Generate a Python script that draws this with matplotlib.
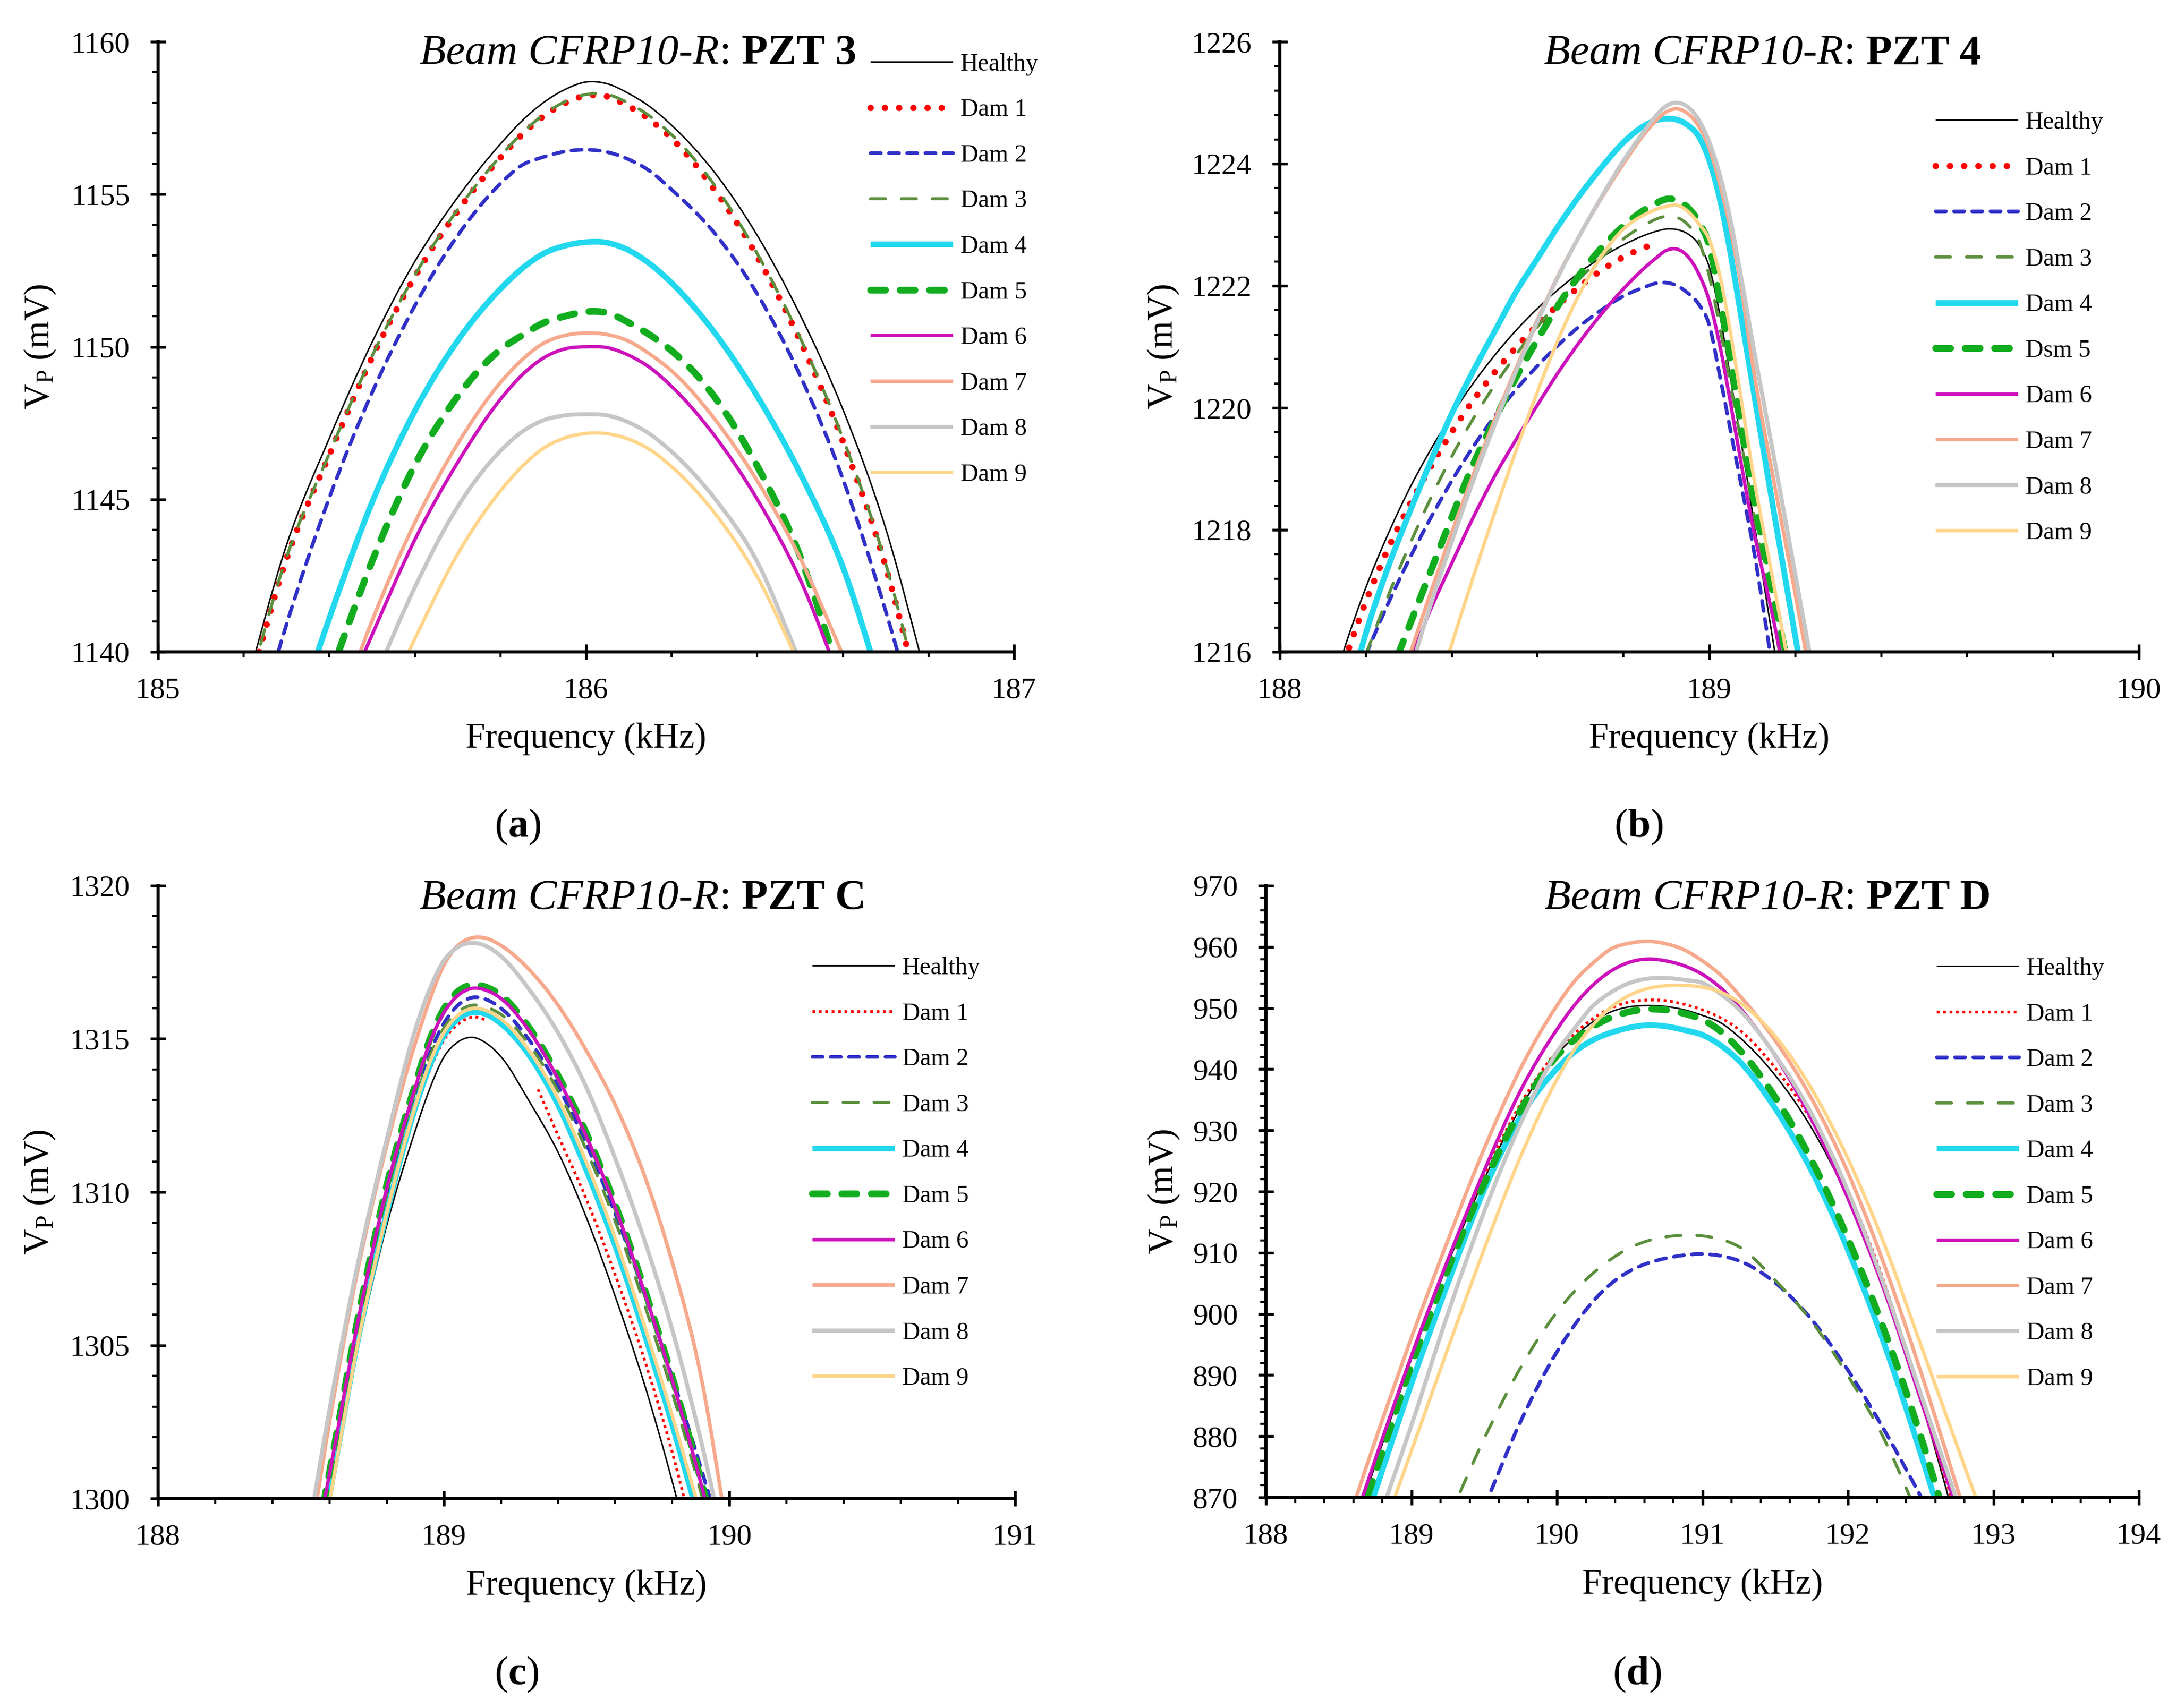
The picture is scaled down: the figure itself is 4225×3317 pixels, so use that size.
import numpy as np
import matplotlib
matplotlib.use("Agg")
import matplotlib.pyplot as plt
from matplotlib.ticker import MultipleLocator
from matplotlib.path import Path
from matplotlib.patches import PathPatch
from matplotlib.lines import Line2D
from matplotlib.offsetbox import TextArea, HPacker, AnchoredOffsetbox

plt.rcParams['font.family'] = ['Liberation Serif', 'DejaVu Serif']
plt.rcParams['mathtext.fontset'] = 'custom'
plt.rcParams['mathtext.rm'] = 'Liberation Serif'
plt.rcParams['mathtext.it'] = 'Liberation Serif:italic'
plt.rcParams['mathtext.bf'] = 'Liberation Serif:bold'

nan = np.nan

# ---------------- Panel (a): PZT 3 ----------------
freq_a = [185.2, 185.3, 185.4, 185.5, 185.6, 185.7, 185.8, 185.85, 185.9, 185.95, 186.0,
          186.05, 186.1, 186.15, 186.2, 186.3, 186.4, 186.5, 186.6, 186.7, 186.8]
healthy_a = [1138.6, 1143.5, 1147.0, 1150.15, 1152.8, 1154.9, 1156.65, 1157.4, 1158.0, 1158.43, 1158.68,
             1158.62, 1158.3, 1157.86, 1157.26, 1155.72, 1153.65, 1151.05, 1147.95, 1144.05, 1138.9]
dam1_a = [1138.2, 1143.05, 1146.45, 1149.65, 1152.3, 1154.45, 1156.2, 1156.95, 1157.55, 1157.98, 1158.23,
          1158.2, 1157.88, 1157.43, 1156.83, 1155.15, 1152.95, 1150.2, 1146.9, 1142.8, 1137.3]
dam2_a = [1136.0, 1140.9, 1145.05, 1148.5, 1151.35, 1153.65, 1155.35, 1155.95, 1156.22, 1156.4, 1156.46,
          1156.38, 1156.14, 1155.75, 1155.15, 1153.73, 1151.73, 1149.06, 1145.67, 1141.34, 1136.4]
dam3_a = [1138.3, 1143.1, 1146.5, 1149.7, 1152.35, 1154.5, 1156.25, 1157.0, 1157.6, 1158.03, 1158.27,
          1158.27, 1157.98, 1157.55, 1156.95, 1155.3, 1153.05, 1150.3, 1147.0, 1142.9, 1137.4]
dam4_a = [nan, 1136.9, 1141.1, 1144.9, 1147.9, 1150.2, 1151.9, 1152.56, 1153.05, 1153.31, 1153.43,
          1153.41, 1153.16, 1152.71, 1152.09, 1150.47, 1148.38, 1145.86, 1142.78, 1138.4, nan]
dam5_a = [nan, nan, 1139.17, 1142.97, 1146.13, 1148.38, 1149.91, 1150.37, 1150.78, 1151.0, 1151.15,
          1151.11, 1150.79, 1150.38, 1149.87, 1148.36, 1146.09, 1143.14, 1138.9, nan, nan]
dam6_a = [nan, nan, 1137.3, 1140.56, 1143.68, 1146.21, 1148.28, 1149.07, 1149.63, 1149.93, 1150.0,
          1149.97, 1149.72, 1149.31, 1148.7, 1147.09, 1145.0, 1142.38, 1138.85, nan, nan]
dam7_a = [nan, nan, 1137.2, 1141.02, 1144.24, 1146.82, 1148.83, 1149.57, 1150.11, 1150.37, 1150.45,
          1150.4, 1150.18, 1149.75, 1149.21, 1147.64, 1145.6, 1143.08, 1139.9, nan, nan]
dam8_a = [nan, nan, nan, 1138.94, 1142.12, 1144.76, 1146.59, 1147.21, 1147.59, 1147.75, 1147.79,
          1147.75, 1147.52, 1147.13, 1146.56, 1145.04, 1142.95, 1139.68, nan, nan, nan]
dam9_a = [nan, nan, nan, 1137.4, 1140.43, 1143.21, 1145.28, 1146.07, 1146.67, 1147.01, 1147.16,
          1147.15, 1146.97, 1146.62, 1146.07, 1144.56, 1142.46, 1139.55, nan, nan, nan]

# ---------------- Panel (b): PZT 4 ----------------
freq_b = [188.10, 188.15, 188.20, 188.25, 188.30, 188.35, 188.40, 188.45, 188.50, 188.55, 188.60,
          188.65, 188.70, 188.75, 188.80, 188.85, 188.875, 188.90, 188.925, 188.95, 188.975,
          189.00, 189.025, 189.05, 189.075, 189.10, 189.15, 189.20, 189.25]
healthy_b = [1214.9, 1216.05, 1217.05, 1217.9, 1218.65, 1219.3, 1219.88, 1220.4, 1220.86, 1221.27, 1221.63,
             1221.95, 1222.23, 1222.47, 1222.67, 1222.83, 1222.89, 1222.93, 1222.92, 1222.85, 1222.68,
             1222.3, 1221.5, 1220.45, 1219.4, 1218.3, 1216.1, 1213.9, nan]
dam1_b = [nan, 1215.85, 1216.82, 1217.66, 1218.38, 1219.02, 1219.6, 1220.12, 1220.58, 1220.99, 1221.36,
          1221.7, 1222.0, 1222.26, 1222.47, 1222.63, 1222.69, nan, nan, nan, nan,
          nan, nan, nan, nan, nan, nan, nan, nan]
dam2_b = [nan, nan, 1215.95, 1216.76, 1217.5, 1218.18, 1218.8, 1219.36, 1219.86, 1220.3, 1220.69,
          1221.04, 1221.35, 1221.61, 1221.83, 1221.98, 1222.04, 1222.05, 1222.0, 1221.88, 1221.7,
          1221.35, 1220.5, 1219.6, 1218.7, 1217.8, 1215.6, nan, nan]
dam3_b = [nan, nan, 1215.95, 1216.88, 1217.72, 1218.5, 1219.2, 1219.82, 1220.37, 1220.87, 1221.33,
          1221.75, 1222.13, 1222.47, 1222.77, 1223.0, 1223.09, 1223.14, 1223.12, 1223.0, 1222.75,
          1222.15, 1221.3, 1220.35, 1219.4, 1218.4, 1216.5, 1214.6, nan]
dam4_b = [nan, 1215.0, 1216.3, 1217.35, 1218.25, 1219.1, 1219.9, 1220.6, 1221.25, 1221.9, 1222.45,
          1223.0, 1223.5, 1223.95, 1224.35, 1224.63, 1224.71, 1224.74, 1224.72, 1224.63, 1224.45,
          1224.05, 1223.4, 1222.5, 1221.45, 1220.4, 1218.3, 1216.25, 1214.2]
dam5_b = [nan, nan, nan, 1215.5, 1216.4, 1217.3, 1218.2, 1219.07, 1219.8, 1220.5, 1221.12,
          1221.7, 1222.2, 1222.63, 1222.98, 1223.25, 1223.35, 1223.42, 1223.4, 1223.28, 1223.05,
          1222.65, 1221.75, 1220.75, 1219.65, 1218.65, 1216.9, 1215.2, nan]
dam6_b = [nan, nan, nan, nan, 1215.8, 1216.68, 1217.45, 1218.2, 1218.88, 1219.48, 1220.05,
          1220.6, 1221.1, 1221.55, 1221.95, 1222.3, 1222.45, 1222.58, 1222.6, 1222.48, 1222.2,
          1221.75, 1221.0, 1220.05, 1219.05, 1218.1, 1216.5, 1214.7, nan]
dam7_b = [nan, nan, nan, nan, 1215.9, 1216.95, 1217.95, 1218.9, 1219.8, 1220.65, 1221.45,
          1222.2, 1222.85, 1223.45, 1224.0, 1224.5, 1224.7, 1224.85, 1224.9, 1224.82, 1224.62,
          1224.25, 1223.65, 1222.9, 1221.95, 1220.75, 1218.8, 1216.95, 1215.0]
dam8_b = [nan, nan, nan, nan, 1215.6, 1216.75, 1217.8, 1218.8, 1219.72, 1220.6, 1221.42,
          1222.18, 1222.85, 1223.47, 1224.05, 1224.55, 1224.78, 1224.95, 1225.0, 1224.93, 1224.72,
          1224.35, 1223.8, 1223.05, 1222.1, 1221.1, 1219.2, 1217.27, 1215.35]
dam9_b = [nan, nan, nan, nan, nan, 1215.0, 1216.12, 1217.22, 1218.28, 1219.3, 1220.27,
          1221.15, 1221.9, 1222.5, 1222.93, 1223.17, 1223.25, 1223.3, 1223.32, 1223.22, 1223.02,
          1222.75, 1222.15, 1221.2, 1220.1, 1219.0, 1217.1, 1215.2, nan]

# ---------------- Panel (c): PZT C ----------------
freq_c = [188.5, 188.6, 188.7, 188.8, 188.9, 188.95, 189.0, 189.05, 189.1, 189.15, 189.2,
          189.3, 189.4, 189.5, 189.6, 189.7, 189.8, 189.9, 190.0]
healthy_c = [1295.0, 1299.9, 1304.9, 1308.9, 1312.0, 1313.35, 1314.4, 1314.9, 1315.05, 1314.85, 1314.42,
             1312.95, 1311.3, 1309.15, 1306.6, 1303.8, 1300.55, 1296.8, nan]
freq_c_dam1 = [188.5, 188.6, 188.7, 188.8, 188.9, 188.95, 189.0, 189.05, 189.1, 189.15, 189.2,
               189.33, 189.4, 189.5, 189.6, 189.7, 189.8, 189.9]
dam1_c = [1295.1, 1300.0, 1305.1, 1309.2, 1312.6, 1313.95, 1314.95, 1315.48, 1315.71, 1315.62, nan,
          1313.35, 1311.85, 1309.75, 1307.3, 1304.6, 1301.5, 1297.8]
dam2_c = [1295.8, 1300.6, 1305.6, 1309.9, 1313.15, 1314.5, 1315.5, 1316.1, 1316.35, 1316.28, 1316.0,
          1314.95, 1313.45, 1311.55, 1309.3, 1306.75, 1303.95, 1301.0, 1297.8]
dam3_c = [1295.6, 1300.4, 1305.5, 1309.7, 1313.0, 1314.4, 1315.35, 1315.88, 1316.1, 1316.03, 1315.8,
          1314.8, 1313.3, 1311.35, 1309.05, 1306.4, 1303.45, 1300.2, 1296.7]
dam4_c = [1295.2, 1300.1, 1305.2, 1309.3, 1312.75, 1314.1, 1315.1, 1315.65, 1315.87, 1315.8, 1315.5,
          1314.45, 1312.85, 1310.7, 1308.25, 1305.45, 1302.4, 1299.1, nan]
dam5_c = [1296.0, 1300.85, 1305.9, 1310.2, 1313.5, 1314.95, 1315.97, 1316.55, 1316.76, 1316.68, 1316.42,
          1315.35, 1313.8, 1311.9, 1309.6, 1306.9, 1303.95, 1300.6, 1296.9]
dam6_c = [1296.0, 1300.8, 1305.8, 1310.1, 1313.4, 1314.85, 1315.85, 1316.42, 1316.65, 1316.58, 1316.32,
          1315.25, 1313.7, 1311.8, 1309.5, 1306.8, 1303.85, 1300.5, 1296.8]
dam7_c = [1296.6, 1302.5, 1307.5, 1311.5, 1314.85, 1316.25, 1317.4, 1318.05, 1318.3, 1318.28, 1318.05,
          1317.25, 1316.1, 1314.6, 1312.85, 1310.6, 1307.7, 1304.0, 1298.5]
dam8_c = [1297.4, 1302.9, 1307.7, 1311.7, 1315.3, 1316.6, 1317.55, 1318.0, 1318.13, 1318.02, 1317.7,
          1316.6, 1315.2, 1313.4, 1311.1, 1308.5, 1305.5, 1301.9, 1297.7]
dam9_c = [1295.0, 1299.9, 1305.1, 1309.3, 1312.8, 1314.2, 1315.2, 1315.77, 1315.99, 1315.92, 1315.65,
          1314.6, 1313.05, 1310.95, 1308.5, 1305.7, 1302.7, 1299.45, nan]

# ---------------- Panel (d): PZT D ----------------
freq_d = [188.5, 188.75, 189.0, 189.25, 189.5, 189.75, 190.0, 190.125, 190.25, 190.375, 190.5,
          190.625, 190.75, 190.875, 191.0, 191.125, 191.25, 191.5, 191.75, 192.0, 192.25,
          192.5, 192.75, 193.0]
healthy_d = [857.8, 875.2, 892.6, 908.2, 922.0, 933.7, 942.4, 945.4, 947.8, 949.4, 950.2,
             950.4, 950.25, 949.7, 948.8, 947.6, 945.3, 939.0, 930.4, 918.9, 904.0,
             886.0, 865.0, nan]
dam1_d = [858.5, 875.9, 893.3, 908.8, 922.6, 934.3, 942.9, 945.9, 948.3, 950.0, 951.0,
          951.3, 951.2, 950.6, 949.7, 948.4, 946.5, 940.2, 931.6, 920.1, 905.1,
          886.0, 867.0, nan]
dam2_d = [nan, nan, nan, nan, 868.4, 882.4, 893.8, 898.3, 902.1, 905.0, 907.0,
          908.3, 909.1, 909.6, 909.8, 909.5, 908.7, 905.1, 899.1, 890.8, 881.0,
          870.2, 859.0, nan]
dam3_d = [nan, nan, nan, 866.3, 879.6, 891.2, 900.3, 903.8, 906.7, 909.0, 910.8,
          911.95, 912.6, 912.85, 912.75, 912.2, 911.0, 905.5, 898.8, 889.9, 879.5,
          866.0, nan, nan]
dam4_d = [853.1, 870.9, 888.6, 905.0, 920.3, 932.2, 940.1, 942.9, 944.8, 946.0, 946.8,
          947.2, 947.0, 946.4, 945.6, 943.9, 941.4, 933.6, 923.4, 910.5, 895.1,
          877.2, 857.7, nan]
dam5_d = [856.7, 873.9, 891.6, 907.2, 921.3, 933.3, 942.2, 944.9, 947.0, 948.5, 949.4,
          949.8, 949.7, 949.1, 948.1, 946.2, 943.3, 935.4, 925.1, 912.3, 897.3,
          880.0, 860.0, nan]
dam6_d = [858.2, 876.1, 893.1, 908.8, 923.4, 936.5, 946.5, 950.6, 953.8, 956.1, 957.5,
          958.0, 957.7, 956.9, 955.5, 953.3, 950.2, 942.2, 931.8, 918.9, 903.8,
          886.0, 868.0, nan]
dam7_d = [861.4, 879.2, 896.1, 912.0, 927.0, 940.1, 950.4, 954.5, 957.4, 959.7, 960.6,
          960.9, 960.5, 959.5, 957.7, 955.4, 952.2, 944.7, 935.2, 923.1, 908.0,
          890.6, 871.6, 852.0]
dam8_d = [nan, 864.6, 881.8, 900.0, 916.7, 931.1, 942.8, 946.8, 950.4, 952.6, 954.1,
          954.8, 954.9, 954.6, 954.1, 952.3, 949.8, 942.3, 932.7, 920.1, 904.6,
          887.0, 869.4, nan]
dam9_d = [nan, 861.1, 877.6, 894.3, 910.6, 925.7, 938.3, 943.4, 947.3, 950.2, 952.1,
          953.2, 953.65, 953.7, 953.4, 952.6, 951.0, 945.4, 936.8, 925.4, 911.4,
          895.0, 878.5, 862.0]

labels = ['Healthy', 'Dam 1', 'Dam 2', 'Dam 3', 'Dam 4', 'Dam 5', 'Dam 6', 'Dam 7', 'Dam 8', 'Dam 9']
labels_b = ['Healthy', 'Dam 1', 'Dam 2', 'Dam 3', 'Dam 4', 'Dsm 5', 'Dam 6', 'Dam 7', 'Dam 8', 'Dam 9']
sensors = ['3', '4', 'C', 'D']
captions = ['a', 'b', 'c', 'd']

colors = ['#000000', '#FF0000', '#3030C8', '#5B8F3D', '#22D8EE', '#12AD1F',
          '#CC11BB', '#F6A98C', '#C6C6C6', '#FFD58A']


def style(i, small_dots):
    if i == 0:
        return dict(lw=0.7, ls='-', cap='butt')
    if i == 1:
        if small_dots:
            return dict(lw=1.3, ls=(0, (1.0, 1.3)), cap='butt')
        return dict(lw=3.0, ls=(0, (0.01, 2.2)), cap='round')
    if i == 2:
        return dict(lw=1.7, ls=(0, (2.8, 2.2)), cap='round')
    if i == 3:
        return dict(lw=1.4, ls=(0, (5.0, 5.3)), cap='round')
    if i == 4:
        return dict(lw=2.7, ls='-', cap='butt')
    if i == 5:
        return dict(lw=3.2, ls=(0, (2.16, 2.13)), cap='round')
    if i == 6:
        return dict(lw=1.6, ls='-', cap='butt')
    if i == 7:
        return dict(lw=1.7, ls='-', cap='butt')
    if i == 8:
        return dict(lw=1.9, ls='-', cap='butt')
    return dict(lw=1.6, ls='-', cap='butt')


def smooth_path(xs, ys):
    """Smooth Bezier path through the read points (drawn by matplotlib in data coordinates)."""
    xs = np.asarray(xs, float)
    ys = np.asarray(ys, float)
    idx = np.where(np.isfinite(ys))[0]
    runs = np.split(idx, np.where(np.diff(idx) != 1)[0] + 1)
    verts, codes = [], []
    for r in runs:
        if len(r) < 2:
            continue
        x, y = xs[r], ys[r]
        n = len(x)
        h = np.diff(x)
        d = np.diff(y) / h
        m = np.empty(n)
        m[0], m[-1] = d[0], d[-1]
        if n > 2:
            m[1:-1] = (h[1:] * d[:-1] + h[:-1] * d[1:]) / (h[:-1] + h[1:])
        verts.append((x[0], y[0]))
        codes.append(Path.MOVETO)
        for i in range(n - 1):
            verts += [(x[i] + h[i] / 3, y[i] + m[i] * h[i] / 3),
                      (x[i + 1] - h[i] / 3, y[i + 1] - m[i + 1] * h[i] / 3),
                      (x[i + 1], y[i + 1])]
            codes += [Path.CURVE4] * 3
    return Path(verts, codes)


panels = [
    dict(pos=[0.07266, 0.61833, 0.39337, 0.35725],
         series=[(freq_a, healthy_a), (freq_a, dam1_a), (freq_a, dam2_a), (freq_a, dam3_a), (freq_a, dam4_a),
                 (freq_a, dam5_a), (freq_a, dam6_a), (freq_a, dam7_a), (freq_a, dam8_a), (freq_a, dam9_a)],
         xlim=(185, 187), ylim=(1140, 1160), xmaj=1, xmin=0.2, ymaj=5, ymin=1,
         tx=0.561, ty=0.9637, leg=(0.832, 0.9816), labels=labels, ylx=-0.138,
         cap=(0.2379, 0.5101), small=False),
    dict(pos=[0.58817, 0.61833, 0.39479, 0.35725],
         series=[(freq_b, healthy_b), (freq_b, dam1_b), (freq_b, dam2_b), (freq_b, dam3_b), (freq_b, dam4_b),
                 (freq_b, dam5_b), (freq_b, dam6_b), (freq_b, dam7_b), (freq_b, dam8_b), (freq_b, dam9_b)],
         xlim=(188, 190), ylim=(1216, 1226), xmaj=1, xmin=0.2, ymaj=2, ymin=0.4,
         tx=0.562, ty=0.9637, leg=(0.763, 0.886), labels=labels_b, ylx=-0.1355,
         cap=(0.7531, 0.5101), small=False),
    dict(pos=[0.07266, 0.12270, 0.39385, 0.35876],
         series=[(freq_c, healthy_c), (freq_c_dam1, dam1_c), (freq_c, dam2_c), (freq_c, dam3_c), (freq_c, dam4_c),
                 (freq_c, dam5_c), (freq_c, dam6_c), (freq_c, dam7_c), (freq_c, dam8_c), (freq_c, dam9_c)],
         xlim=(188, 191), ylim=(1300, 1320), xmaj=1, xmin=0.2, ymaj=5, ymin=1,
         tx=0.566, ty=0.9622, leg=(0.763, 0.884), labels=labels, ylx=-0.138,
         cap=(0.2374, 0.01387), small=True),
    dict(pos=[0.58178, 0.12330, 0.40118, 0.35816],
         series=[(freq_d, healthy_d), (freq_d, dam1_d), (freq_d, dam2_d), (freq_d, dam3_d), (freq_d, dam4_d),
                 (freq_d, dam5_d), (freq_d, dam6_d), (freq_d, dam7_d), (freq_d, dam8_d), (freq_d, dam9_d)],
         xlim=(188, 194), ylim=(870, 970), xmaj=1, xmin=0.2, ymaj=10, ymin=2,
         tx=0.575, ty=0.9622, leg=(0.768, 0.883), labels=labels, ylx=-0.117,
         cap=(0.7524, 0.01387), small=True),
]

fig = plt.figure(figsize=(4225 / 300, 3317 / 300), dpi=300)

for k, p in enumerate(panels):
    ax = fig.add_axes(p['pos'])
    handles = []
    for i, (xs, ys) in enumerate(p['series']):
        st = style(i, p['small'])
        patch = PathPatch(smooth_path(xs, ys), fill=False, edgecolor=colors[i], linewidth=st['lw'],
                          linestyle=st['ls'], capstyle=st['cap'], joinstyle='round')
        ax.add_patch(patch)
        handles.append(Line2D([0, 1], [0, 0], color=colors[i], lw=st['lw'], linestyle=st['ls'],
                              dash_capstyle=st['cap'], solid_capstyle='butt', label=p['labels'][i]))
    ax.set_xlim(*p['xlim'])
    ax.set_ylim(*p['ylim'])
    ax.xaxis.set_major_locator(MultipleLocator(p['xmaj']))
    ax.xaxis.set_minor_locator(MultipleLocator(p['xmin']))
    ax.yaxis.set_major_locator(MultipleLocator(p['ymaj']))
    ax.yaxis.set_minor_locator(MultipleLocator(p['ymin']))
    ax.xaxis.set_major_formatter(plt.FuncFormatter(lambda v, pos: '%d' % round(v)))
    ax.yaxis.set_major_formatter(plt.FuncFormatter(lambda v, pos: '%d' % round(v)))
    for s in ['top', 'right']:
        ax.spines[s].set_visible(False)
    for s in ['left', 'bottom']:
        ax.spines[s].set_linewidth(1.5)
        ax.spines[s].set_zorder(3)
    ax.tick_params(which='major', direction='inout', length=7, width=1.3, labelsize=14)
    ax.tick_params(which='minor', direction='out', length=2.6, width=1.0)
    ax.tick_params(axis='x', which='major', pad=8.3)
    ax.tick_params(axis='y', which='major', pad=9.5)

    ax.set_xlabel('Frequency (kHz)', fontsize=16.5)
    ax.xaxis.set_label_coords(0.5, -0.157)
    ax.xaxis.label.set_verticalalignment('baseline')
    ax.set_ylabel(r'$\mathrm{V_P}$ (mV)', fontsize=16.5)
    ax.yaxis.set_label_coords(p['ylx'], 0.5)
    ax.yaxis.label.set_verticalalignment('center')

    t1 = TextArea('Beam CFRP10-R', textprops=dict(fontsize=20, style='italic'))
    t2 = TextArea(':', textprops=dict(fontsize=20))
    t3 = TextArea('PZT ' + sensors[k], textprops=dict(fontsize=20, weight='bold'))
    left = HPacker(children=[t1, t2], align='baseline', pad=0, sep=0)
    box = HPacker(children=[left, t3], align='baseline', pad=0, sep=5)
    anch = AnchoredOffsetbox(loc='lower center', child=box, pad=0, borderpad=0, frameon=False,
                             bbox_to_anchor=(p['tx'], p['ty'] - 0.0152), bbox_transform=ax.transAxes)
    ax.add_artist(anch)

    ax.legend(handles=handles, loc='upper left', bbox_to_anchor=p['leg'], frameon=False,
              fontsize=11.5, handlelength=3.34, handletextpad=0.31, labelspacing=0.93,
              borderpad=0, borderaxespad=0)

    fig.text(p['cap'][0], p['cap'][1], r'($\mathbf{%s}$)' % captions[k], ha='center', va='baseline', fontsize=19)

fig.savefig('out.png', dpi=300)
